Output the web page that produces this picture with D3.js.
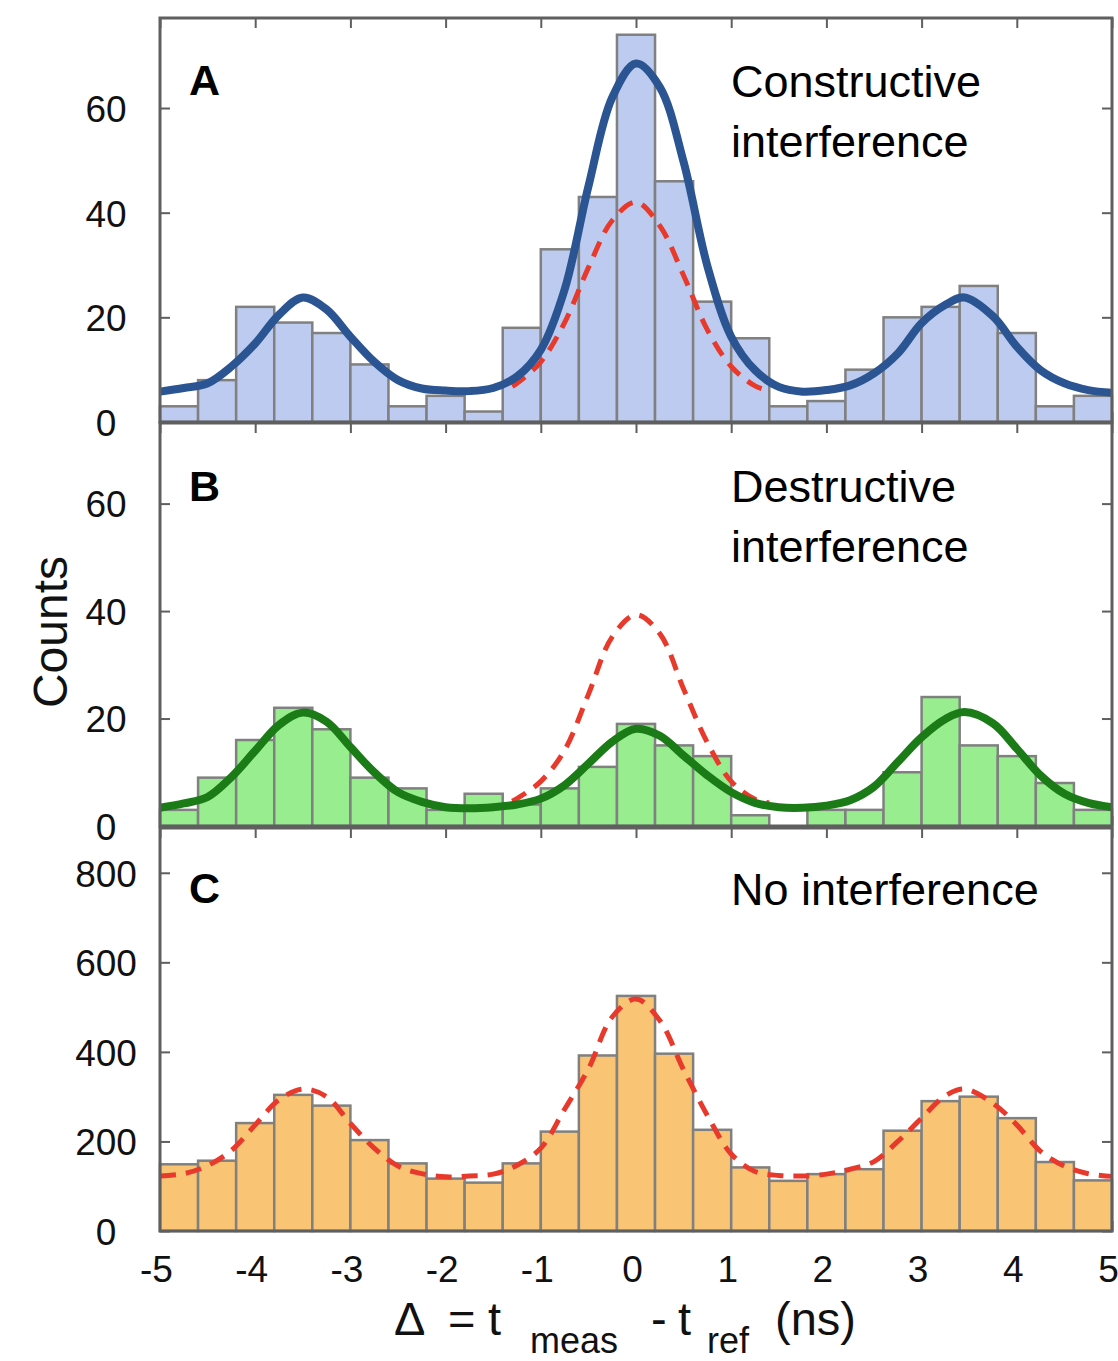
<!DOCTYPE html>
<html>
<head>
<meta charset="utf-8">
<script src="https://cdn.jsdelivr.net/npm/d3@7"></script>
<style>
  html, body { margin: 0; padding: 0; background: #ffffff; }
  svg { display: block; font-family: "Liberation Sans", Arial, Helvetica, sans-serif; }
</style>
</head>
<body>
<svg id="chart" width="1118" height="1361"></svg>
<script>
// ---- Data ----
// histogram bins: left edges (ns), width 0.4 ns
const binStarts = [-5, -4.6, -4.2, -3.8, -3.4, -3.0, -2.6, -2.2, -1.8, -1.4, -1.0, -0.6, -0.2,
                   0.2, 0.6, 1.0, 1.4, 1.8, 2.2, 2.6, 3.0, 3.4, 3.8, 4.2, 4.6];
const binWidth = 0.4;

const countsA = [3, 8, 22, 19, 17, 11, 3, 5, 2, 18, 33, 43, 74, 46, 23, 16, 3, 4, 10, 20, 22, 26, 17, 3, 5];
const countsB = [3, 9, 16, 22, 18, 9, 7, 3, 6, 4, 7, 11, 19, 15, 13, 2, 0, 3, 3, 10, 24, 15, 13, 8, 3];
const countsC = [149, 157, 241, 304, 280, 203, 151, 117, 108, 151, 222, 392, 525, 396, 226, 142, 112, 127, 138, 224, 290, 300, 252, 154, 113];

// fitted curves
const fitX = [-5, -4.75, -4.5, -4.25, -4, -3.75, -3.5, -3.25, -3, -2.75, -2.5, -2.25, -2, -1.75, -1.5, -1.25,
              -1, -0.75, -0.5, -0.25, 0, 0.25, 0.5, 0.75, 1, 1.25, 1.5, 1.75, 2, 2.25, 2.5, 2.75, 3, 3.25,
              3.45, 3.75, 4, 4.25, 4.5, 4.75, 5];
const fitA = [5.8, 6.5, 7.4, 10.6, 15, 20.5, 23.8, 21.5, 16.3, 11.5, 8, 6.4, 6.0, 5.9, 6.5, 8.7,
              13.8, 25.3, 45, 62, 68.5, 64, 49.7, 29.8, 16.3, 9.9, 6.7, 5.8, 6.1, 7, 9.3, 13.1, 18.9, 22.4,
              23.8, 20.2, 14.4, 9.9, 7.4, 6.1, 5.6];
const fitB = [3.4, 4.2, 5.4, 9.1, 14.0, 18.8, 21.1, 19.4, 14.7, 10, 6.3, 4.5, 3.5, 3.3, 3.5, 4.0,
              5.1, 7.6, 11.6, 15.7, 18.1, 16.8, 13.1, 9.4, 6.3, 4.3, 3.5, 3.4, 3.8, 4.8, 7.3, 11.9, 16.5, 19.9,
              21.2, 19.1, 14.4, 9.4, 6.0, 4.3, 3.5];
const refC = [123, 128, 146, 180, 237, 293, 317, 300, 240, 185, 145, 128, 121, 123, 127, 147,
              185, 272, 362, 478, 518, 470, 360, 258, 172, 133, 124, 123, 127, 138, 155, 200, 252, 302,
              317, 285, 237, 178, 145, 128, 122];

// expected (no-interference) curves over the central peak, panels A and B
const refX = [-1.3, -1.25, -1, -0.75, -0.5, -0.25, 0, 0.25, 0.5, 0.75, 1, 1.25, 1.4];
const refA = [6.8, 7.4, 11.5, 19, 29.5, 38.5, 42, 37.5, 28, 17.6, 10.6, 6.9, 6.0];
const refB = [4.6, 5.1, 8.3, 14.1, 24.5, 35.2, 39.3, 35.8, 25.5, 15.5, 8.3, 5.0, 4.3];

const xTicks = [-5, -4, -3, -2, -1, 0, 1, 2, 3, 4, 5];
const yTicksAB = [0, 20, 40, 60];
const yTicksC = [0, 200, 400, 600, 800];

// ---- Drawing ----
const svg = d3.select("#chart");
const x = d3.scaleLinear().domain([-5, 5]).range([160, 1112]);

const panels = [
  { top: 18, bottom: 422, max: 77.2, yTicks: yTicksAB, counts: countsA, fill: "#bccbef",
    fitX: fitX, fit: fitA, fitColor: "#2b5592", refX: refX, ref: refA, label: "A",
    text: ["Constructive", "interference"], labelY: 95, textY: 97 },
  { top: 423, bottom: 826, max: 75, yTicks: yTicksAB, counts: countsB, fill: "#98ee8f",
    fitX: fitX, fit: fitB, fitColor: "#1b7b17", refX: refX, ref: refB, label: "B",
    text: ["Destructive", "interference"], labelY: 501, textY: 502 },
  { top: 828, bottom: 1231, max: 900, yTicks: yTicksC, counts: countsC, fill: "#f9c474",
    fitX: null, fit: null, fitColor: null, refX: fitX, ref: refC, label: "C",
    text: ["No interference"], labelY: 903, textY: 905 }
];

const frameColor = "#5f5f5f";

panels.forEach((p, pi) => {
  const y = d3.scaleLinear().domain([0, p.max]).range([p.bottom, p.top]);
  const g = svg.append("g");

  // ticks (drawn under bars)
  const axL = g.append("g").attr("transform", `translate(${x.range()[0]},0)`)
    .call(d3.axisLeft(y).tickValues(p.yTicks).tickSize(-10).tickPadding(0).tickFormat(d => String(d)));
  const axR = g.append("g").attr("transform", `translate(${x.range()[1]},0)`)
    .call(d3.axisRight(y).tickValues(p.yTicks).tickSize(-10).tickFormat(""));
  const axT = g.append("g").attr("transform", `translate(0,${p.top})`)
    .call(d3.axisTop(x).tickValues(xTicks).tickSize(-10).tickFormat(""));
  const axB = g.append("g").attr("transform", `translate(0,${p.bottom})`)
    .call(d3.axisBottom(x).tickValues(xTicks).tickSize(-10).tickFormat(pi === 2 ? (d => String(d)) : ""));

  [axL, axR, axT, axB].forEach(a => {
    a.select(".domain").remove();
    a.selectAll(".tick line").attr("stroke", frameColor).attr("stroke-width", 2);
    a.selectAll("text").attr("fill", "#111").attr("font-size", 37);
  });
  axL.selectAll("text").attr("text-anchor", "middle").attr("x", -54).attr("dy", "0.36em");
  if (pi === 2) {
    axB.selectAll("text").attr("text-anchor", "middle").attr("dx", -4).attr("y", 0).attr("dy", 0)
      .attr("transform", "translate(0,51)");
  }

  // bars
  g.append("g").selectAll("rect").data(p.counts).join("rect")
    .attr("x", (d, i) => x(binStarts[i]))
    .attr("width", (d, i) => x(binStarts[i] + binWidth) - x(binStarts[i]))
    .attr("y", d => y(d))
    .attr("height", d => y(0) - y(d))
    .attr("fill", p.fill)
    .attr("stroke", "#808080")
    .attr("stroke-width", 2.5);

  const line = d3.line().x(d => x(d[0])).y(d => y(d[1])).curve(d3.curveCatmullRom.alpha(0.5));

  // red dashed reference curve
  if (p.ref) {
    g.append("path")
      .attr("d", line(p.refX.map((v, i) => [v, p.ref[i]])))
      .attr("fill", "none").attr("stroke", "#e83a2c").attr("stroke-width", 5)
      .attr("stroke-dasharray", "16,10");
  }
  // solid fitted curve
  if (p.fit) {
    g.append("path")
      .attr("d", line(p.fitX.map((v, i) => [v, p.fit[i]])))
      .attr("fill", "none").attr("stroke", p.fitColor).attr("stroke-width", 8)
      .attr("stroke-linejoin", "round");
  }

  // frame
  g.append("rect")
    .attr("x", x.range()[0]).attr("y", p.top)
    .attr("width", x.range()[1] - x.range()[0]).attr("height", p.bottom - p.top)
    .attr("fill", "none").attr("stroke", frameColor).attr("stroke-width", 3);

  // panel letter
  g.append("text").attr("x", 189).attr("y", p.labelY)
    .attr("font-size", 43).attr("font-weight", "bold").attr("fill", "#000").text(p.label);

  // annotation
  p.text.forEach((t, k) => {
    g.append("text").attr("x", 731).attr("y", p.textY + k * 60)
      .attr("font-size", 45).attr("fill", "#000").text(t);
  });
});

// y-axis title
svg.append("text")
  .attr("transform", "translate(67,632) rotate(-90)")
  .attr("text-anchor", "middle").attr("font-size", 48).attr("fill", "#111").text("Counts");

// x-axis title
const xt = svg.append("text").attr("fill", "#111");
const pieces = [
  { t: "\u0394", x: 394, y: 1335, s: 47 },
  { t: "=", x: 448, y: 1335, s: 47 },
  { t: "t", x: 488, y: 1335, s: 47 },
  { t: "meas", x: 530, y: 1353, s: 36 },
  { t: "-", x: 651, y: 1335, s: 47 },
  { t: "t", x: 678, y: 1335, s: 47 },
  { t: "ref", x: 707, y: 1353, s: 36 },
  { t: "(ns)", x: 775, y: 1335, s: 47 }
];
pieces.forEach(pc => {
  xt.append("tspan").attr("x", pc.x).attr("y", pc.y).attr("font-size", pc.s).text(pc.t);
});
</script>
</body>
</html>
